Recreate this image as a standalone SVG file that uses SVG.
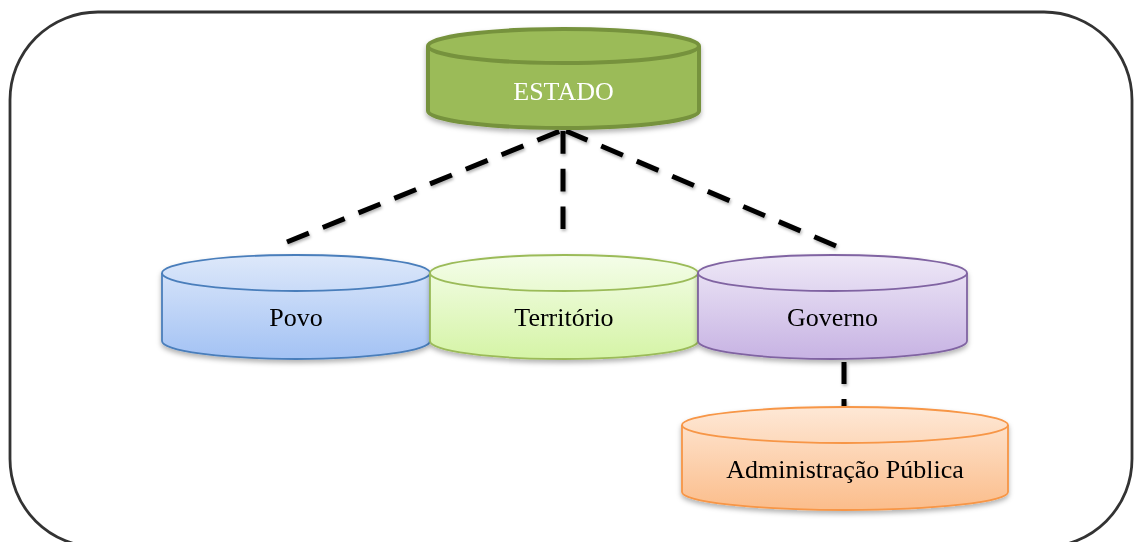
<svg xmlns="http://www.w3.org/2000/svg" width="1134" height="542" viewBox="0 0 1134 542">
<defs>
<linearGradient id="gBlue" x1="0" y1="0" x2="0" y2="1"><stop offset="0" stop-color="#dde8fa"/><stop offset="1" stop-color="#a3c2f4"/></linearGradient>
<linearGradient id="gGreen" x1="0" y1="0" x2="0" y2="1"><stop offset="0" stop-color="#f4fde9"/><stop offset="1" stop-color="#d5f4a6"/></linearGradient>
<linearGradient id="gPurple" x1="0" y1="0" x2="0" y2="1"><stop offset="0" stop-color="#eee8f7"/><stop offset="1" stop-color="#c7b3e3"/></linearGradient>
<linearGradient id="gOrange" x1="0" y1="0" x2="0" y2="1"><stop offset="0" stop-color="#fee8d6"/><stop offset="1" stop-color="#fbbd8b"/></linearGradient>
<filter id="sh" x="-10%" y="-20%" width="120%" height="150%"><feDropShadow dx="0" dy="3" stdDeviation="2.5" flood-color="#000" flood-opacity="0.3"/></filter>
<filter id="shl" x="-10%" y="-10%" width="120%" height="130%"><feDropShadow dx="1" dy="2" stdDeviation="1.5" flood-color="#000" flood-opacity="0.3"/></filter>
</defs>
<style>
.frame{fill:#fff;stroke:#333;stroke-width:2.8}
.lbl{font-family:"Liberation Serif","Times New Roman",serif;font-size:26px;text-anchor:middle;fill:#000}
.conn{stroke:#000;stroke-width:5;stroke-dasharray:22 15;fill:none}
.diag{stroke-dasharray:23.6 15}
.arc{fill:none}
</style>
<rect class="frame" x="10" y="12" width="1122" height="535" rx="88" ry="88"/>
<g id="connectors" filter="url(#shl)">
<line class="conn diag" x1="287" y1="242" x2="560" y2="131"/>
<line class="conn" x1="563" y1="131" x2="563" y2="229" style="stroke-dasharray:22.7 15"/>
<line class="conn diag" x1="836" y1="246" x2="566" y2="131"/>
<line class="conn" x1="844" y1="362" x2="844" y2="407"/>
</g>
<g id="estado" filter="url(#sh)">
<path d="M428,46 L428,111 A135.5,17 0 0 0 699,111 L699,46 A135.5,17 0 0 0 428,46 Z" fill="#9bbb59" stroke="#76923c" stroke-width="4"/>
<path class="arc" d="M428,46 A135.5,17 0 0 0 699,46" stroke="#76923c" stroke-width="4"/>
<text class="lbl" x="563.5" y="100" style="fill:#fff">ESTADO</text>
</g>
<g id="povo" filter="url(#sh)">
<path d="M162,273 L162,341 A134,18 0 0 0 430,341 L430,273 A134,18 0 0 0 162,273 Z" fill="url(#gBlue)" stroke="#4a7ebb" stroke-width="1.8"/>
<path class="arc" d="M162,273 A134,18 0 0 0 430,273" stroke="#4a7ebb" stroke-width="1.8"/>
<text class="lbl" x="296" y="326">Povo</text>
</g>
<g id="territorio" filter="url(#sh)">
<path d="M430,273 L430,341 A134,18 0 0 0 698,341 L698,273 A134,18 0 0 0 430,273 Z" fill="url(#gGreen)" stroke="#9bbb59" stroke-width="1.8"/>
<path class="arc" d="M430,273 A134,18 0 0 0 698,273" stroke="#9bbb59" stroke-width="1.8"/>
<text class="lbl" x="564" y="326">Território</text>
</g>
<g id="governo" filter="url(#sh)">
<path d="M698,273 L698,341 A134.5,18 0 0 0 967,341 L967,273 A134.5,18 0 0 0 698,273 Z" fill="url(#gPurple)" stroke="#8064a2" stroke-width="1.8"/>
<path class="arc" d="M698,273 A134.5,18 0 0 0 967,273" stroke="#8064a2" stroke-width="1.8"/>
<text class="lbl" x="832.5" y="326">Governo</text>
</g>
<g id="administracao" filter="url(#sh)">
<path d="M682,425 L682,492 A163,18 0 0 0 1008,492 L1008,425 A163,18 0 0 0 682,425 Z" fill="url(#gOrange)" stroke="#f79646" stroke-width="1.8"/>
<path class="arc" d="M682,425 A163,18 0 0 0 1008,425" stroke="#f79646" stroke-width="1.8"/>
<text class="lbl" x="845" y="478">Administração Pública</text>
</g>
</svg>
